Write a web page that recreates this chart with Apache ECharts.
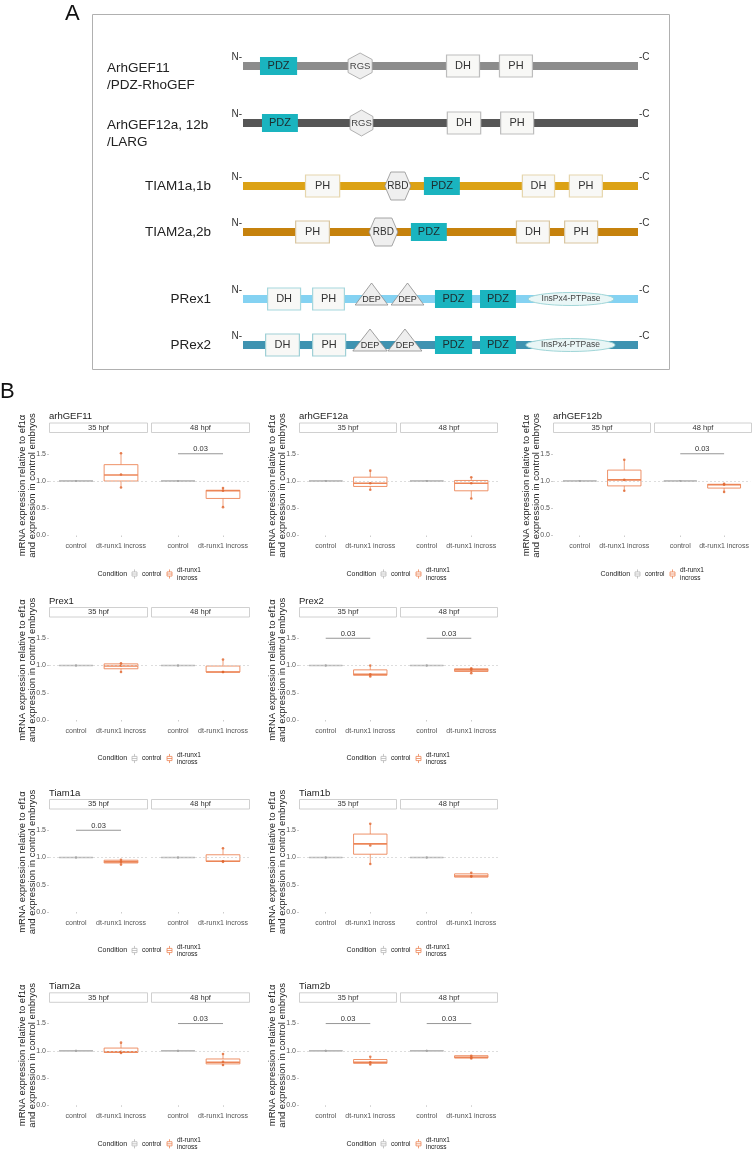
<!DOCTYPE html>
<html><head><meta charset="utf-8">
<script src="https://cdn.jsdelivr.net/npm/echarts@6/dist/echarts.min.js"></script>
<style>html,body{margin:0;padding:0;background:#fff}#c{width:752px;height:1149px}</style>
</head><body><div id="c"></div>
<script>
// ================= DATA =================
// Panel A: domain architecture (positions in % of protein length)
const proteinLabels = ['ArhGEF11\n/PDZ-RhoGEF', 'ArhGEF12a, 12b\n/LARG', 'TIAM1a,1b', 'TIAM2a,2b', 'PRex1', 'PRex2'];
const backbone = [0, 100];
const domainsArhGEF11 = [['PDZ', 4.3, 13.7], ['RGS', 26.6, 32.7], ['DH', 51.4, 60.0], ['PH', 64.8, 73.4]];
const domainsArhGEF12 = [['PDZ', 4.8, 13.9], ['RGS', 27.1, 32.9], ['DH', 51.6, 60.3], ['PH', 65.1, 73.7]];
const domainsTIAM1 = [['PH', 15.7, 24.6], ['RBD', 35.9, 42.5], ['PDZ', 45.8, 54.9], ['DH', 70.6, 79.0], ['PH', 82.5, 91.1]];
const domainsTIAM2 = [['PH', 13.2, 22.0], ['RBD', 31.9, 39.2], ['PDZ', 42.5, 51.6], ['DH', 69.1, 77.7], ['PH', 81.3, 89.9]];
const domainsPRex1 = [['DH', 6.1, 14.7], ['PH', 17.5, 25.8], ['DEP', 28.4, 36.7], ['DEP', 37.5, 45.8], ['PDZ', 48.6, 58.0], ['PDZ', 60.0, 69.1], ['InsPx4-PTPase', 72.2, 93.9]];
const domainsPRex2 = [['DH', 5.6, 14.4], ['PH', 17.5, 26.1], ['DEP', 27.8, 36.5], ['DEP', 36.7, 45.3], ['PDZ', 48.6, 58.0], ['PDZ', 60.0, 69.1], ['InsPx4-PTPase', 71.6, 94.2]];

// Panel B: qPCR boxplots
const genes = ['arhGEF11', 'arhGEF12a', 'arhGEF12b', 'Prex1', 'Prex2', 'Tiam1a', 'Tiam1b', 'Tiam2a', 'Tiam2b'];
const stages = ['35 hpf', '48 hpf'];
const conditions = ['control', 'dt-runx1 incross'];
const yTickValues = [0, 0.5, 1, 1.5];
const yTitle = 'mRNA expression relative to ef1\u03b1\nand expression in control embryos';
// [min, q1, median, q3, max]
const controlStats = [1, 1, 1, 1, 1];
const controlPoints = [1, 1, 1];
const dt35Stats = [
  [0.88, 1.00, 1.11, 1.30, 1.52], [0.84, 0.90, 0.96, 1.07, 1.19], [0.81, 0.91, 1.02, 1.20, 1.39],
  [0.88, 0.94, 0.99, 1.03, 1.05], [0.80, 0.82, 0.84, 0.92, 1.00], [0.87, 0.90, 0.92, 0.95, 0.96],
  [0.88, 1.06, 1.25, 1.43, 1.62], [0.96, 0.97, 0.98, 1.05, 1.14], [0.74, 0.77, 0.79, 0.84, 0.88]];
const dt48Stats = [
  [0.52, 0.68, 0.82, 0.83, 0.88], [0.68, 0.82, 0.96, 1.01, 1.07], [0.79, 0.87, 0.93, 0.94, 0.95],
  [0.88, 0.88, 0.88, 0.99, 1.11], [0.86, 0.89, 0.92, 0.94, 0.95], [0.92, 0.93, 0.93, 1.05, 1.18],
  [0.64, 0.64, 0.66, 0.70, 0.71], [0.72, 0.76, 0.79, 0.85, 0.93], [0.85, 0.87, 0.88, 0.91, 0.91]];
const dt35Points = [
  [1.51, 1.12, 0.88], [1.19, 0.96, 0.84], [1.39, 1.02, 0.82], [1.04, 1.00, 0.88], [1.00, 0.84, 0.80],
  [0.96, 0.92, 0.87], [1.62, 1.22, 0.88], [1.15, 0.98, 0.96], [0.89, 0.79, 0.75]];
const dt48Points = [
  [0.87, 0.82, 0.52], [1.07, 0.96, 0.68], [0.95, 0.93, 0.80], [1.11, 0.88, 0.88], [0.95, 0.92, 0.86],
  [1.17, 0.92, 0.93], [0.72, 0.66, 0.65], [0.94, 0.80, 0.74], [0.91, 0.88, 0.86]];
const sig35 = [null, null, null, null, '0.03', '0.03', null, null, '0.03'];
const sig48 = ['0.03', null, '0.03', null, '0.03', null, null, '0.03', '0.03'];
const sigLevel = 1.5;

// ================= LAYOUT / STYLE =================
const FONT = '"Liberation Sans", Arial, Helvetica, sans-serif';
const GRAY = '#b8b8b8', ORANGE = '#ec8658', ORANGE_PT = '#e0662f';
const option = { animation: false, textStyle: { fontFamily: FONT }, title: [], grid: [], xAxis: [], yAxis: [], series: [], legend: [], graphic: [] };

option.title.push({ text: 'A', left: 65, top: 3, padding: 0, textStyle: { fontSize: 22, fontWeight: 'normal', color: '#111', fontFamily: FONT } });
option.title.push({ text: 'B', left: 0, top: 381, padding: 0, textStyle: { fontSize: 22, fontWeight: 'normal', color: '#111', fontFamily: FONT } });
option.graphic.push({ type: 'rect', shape: { x: 92.5, y: 14.5, width: 577, height: 355 }, style: { fill: 'none', stroke: '#b0b0b0', lineWidth: 1 }, silent: true });

// ---- Panel A ----
const rowY = [66, 123, 186, 232, 299, 345];
const rowDomains = [domainsArhGEF11, domainsArhGEF12, domainsTIAM1, domainsTIAM2, domainsPRex1, domainsPRex2];
const rowStyle = [
  { bar: '#8c8c8c', border: '#bdbdbd', align: 'left' },
  { bar: '#565656', border: '#bdbdbd', align: 'left' },
  { bar: '#dca215', border: '#e6d6ad', align: 'right' },
  { bar: '#c6820d', border: '#d9c6a0', align: 'right' },
  { bar: '#84d2f2', border: '#a5d7dd', align: 'right' },
  { bar: '#3f93b1', border: '#9fd0d6', align: 'right' }];

function domainRenderer(items, st) {
  return function (params, api) {
    const it = items[params.dataIndex];
    const a = api.coord([it[1], 0]), b = api.coord([it[2], 0]);
    const x0 = a[0], x1 = b[0], cy = a[1], cx = (x0 + x1) / 2, w = x1 - x0;
    const txt = (t, y, size, col) => ({ type: 'text', style: { text: t, x: cx, y: y, align: 'center', verticalAlign: 'middle', fontSize: size, fill: col || '#333', fontFamily: FONT } });
    const k = it[0];
    if (k === 'chain') return { type: 'group', children: [
      { type: 'rect', shape: { x: x0, y: cy - 4, width: w, height: 8 }, style: { fill: st.bar } },
      { type: 'text', style: { text: 'N-', x: x0 - 1, y: cy - 9, align: 'right', verticalAlign: 'middle', fontSize: 10, fill: '#333', fontFamily: FONT } },
      { type: 'text', style: { text: '-C', x: x1 + 1, y: cy - 9, align: 'left', verticalAlign: 'middle', fontSize: 10, fill: '#333', fontFamily: FONT } }] };
    if (k === 'PDZ') return { type: 'group', children: [
      { type: 'rect', shape: { x: x0, y: cy - 9, width: w, height: 18 }, style: { fill: '#1ab4bf' } }, txt('PDZ', cy, 11, '#1d2b2d')] };
    if (k === 'DH' || k === 'PH') return { type: 'group', children: [
      { type: 'rect', shape: { x: x0 + 0.5, y: cy - 11, width: w - 1, height: 22 }, style: { fill: '#f8f8f6', stroke: st.border, lineWidth: 1.2 } }, txt(k, cy, 11)] };
    if (k === 'RGS') return { type: 'group', children: [
      { type: 'polygon', shape: { points: [[cx, cy - 13], [x1, cy - 6.5], [x1, cy + 6.5], [cx, cy + 13], [x0, cy + 6.5], [x0, cy - 6.5]] }, style: { fill: '#efefef', stroke: '#a0a0a0', lineWidth: 0.8 } }, txt(k, cy, 9.5, '#444')] };
    if (k === 'RBD') return { type: 'group', children: [
      { type: 'polygon', shape: { points: [[x0, cy], [x0 + 6, cy - 14], [x1 - 6, cy - 14], [x1, cy], [x1 - 6, cy + 14], [x0 + 6, cy + 14]] }, style: { fill: '#efefef', stroke: '#909090', lineWidth: 0.8 } }, txt(k, cy, 10, '#333')] };
    if (k === 'DEP') return { type: 'group', children: [
      { type: 'polygon', shape: { points: [[cx, cy - 16], [x1, cy + 6], [x0, cy + 6]] }, style: { fill: '#eeeeee', stroke: '#8a8a8a', lineWidth: 0.8 } }, txt(k, cy + 1, 9, '#333')] };
    // InsPx4-PTPase ellipse
    const rx = w / 2, ry = 6.5;
    return { type: 'group', children: [
      { type: 'path', shape: { pathData: `M${x0},${cy}A${rx},${ry} 0 1,1 ${x1},${cy}A${rx},${ry} 0 1,1 ${x0},${cy}Z` }, style: { fill: '#e9f6f6', stroke: '#a0d5d7', lineWidth: 1 } },
      txt(k, cy, 8.5, '#444')] };
  };
}

rowY.forEach((y, i) => {
  const gi = option.grid.length;
  option.grid.push({ left: 243, width: 395, top: y - 15, height: 30 });
  option.xAxis.push({ type: 'value', gridIndex: gi, min: backbone[0], max: backbone[1], show: false });
  const left = rowStyle[i].align === 'left';
  option.yAxis.push({ type: 'category', gridIndex: gi, data: [proteinLabels[i]], axisLine: { show: false }, axisTick: { show: false },
    axisLabel: { margin: left ? 136 : 32, align: left ? 'left' : 'right', fontSize: 13.5, color: '#222', lineHeight: 17, fontFamily: FONT,
      verticalAlign: 'middle',
      formatter: v => (v.indexOf('\n') >= 0 ? '{g| }\n' + v.split('\n').map(s => '{t|' + s + '}').join('\n') : v),
      rich: { g: { lineHeight: 21, fontSize: 13.5 }, t: { lineHeight: 17, fontSize: 13.5, color: '#222', fontFamily: FONT } } } });
  const items = [['chain', backbone[0], backbone[1]]].concat(rowDomains[i]);
  option.series.push({ type: 'custom', xAxisIndex: gi, yAxisIndex: gi, clip: false, silent: true,
    renderItem: domainRenderer(items, rowStyle[i]), encode: { x: [0, 1], y: 2 },
    data: items.map(it => [it[1], it[2], 0]) });
});

// ---- Panel B ----
const genePos = [[0, 0], [0, 1], [0, 2], [1, 0], [1, 1], [2, 0], [2, 1], [3, 0], [3, 1]];
const colPanels = [[[49, 148], [151, 250]], [[299, 397], [400, 498]], [[553, 651], [654, 752]]];
const rowZero = [535.5, 720, 912, 1105.3];
const PXU = 54.5, YMIN = -0.1, YMAX = 1.8;
const BOXICON = 'path://M3,0V3M0,3H6V8H0ZM0,5.5H6M3,8V11';

function renderBox(params, api) {
  const x = api.value(0);
  const c = v => api.coord([x, v]);
  const half = api.size([0.75, 0])[0] / 2;
  const pMin = c(api.value(1)), pQ1 = c(api.value(2)), pMed = c(api.value(3)), pQ3 = c(api.value(4)), pMax = c(api.value(5));
  const col = api.visual('color');
  const cx = pMed[0];
  return { type: 'group', children: [
    { type: 'line', shape: { x1: cx, y1: pMax[1], x2: cx, y2: pQ3[1] }, style: { stroke: col, lineWidth: 0.8 } },
    { type: 'line', shape: { x1: cx, y1: pQ1[1], x2: cx, y2: pMin[1] }, style: { stroke: col, lineWidth: 0.8 } },
    { type: 'rect', shape: { x: cx - half, y: pQ3[1], width: half * 2, height: pQ1[1] - pQ3[1] }, style: { fill: 'none', stroke: col, lineWidth: 0.9 } },
    { type: 'line', shape: { x1: cx - half, y1: pMed[1], x2: cx + half, y2: pMed[1] }, style: { stroke: col, lineWidth: 1.6 } }] };
}
function sigRenderer(label) {
  return function (params, api) {
    const a = api.coord([api.value(0), api.value(2)]), b = api.coord([api.value(1), api.value(2)]);
    return { type: 'group', children: [
      { type: 'line', shape: { x1: a[0], y1: a[1], x2: b[0], y2: b[1] }, style: { stroke: '#8a8a8a', lineWidth: 0.9 } },
      { type: 'text', style: { text: label, x: (a[0] + b[0]) / 2, y: a[1] - 0.5, align: 'center', verticalAlign: 'bottom', fontSize: 7.5, fill: '#333', fontFamily: FONT } }] };
  };
}

genes.forEach((gene, g) => {
  const [r, c] = genePos[g];
  const zero = rowZero[r];
  const panels = colPanels[c];
  const center = (panels[0][0] + panels[1][1]) / 2;
  option.title.push({ text: gene, left: panels[0][0], top: zero - 124, padding: 0, textStyle: { fontSize: 9.5, fontWeight: 'normal', color: '#222', fontFamily: FONT } });
  option.title.push({ text: 'Condition', left: center - 52, top: zero + 35, padding: 0, textStyle: { fontSize: 7, fontWeight: 'normal', color: '#222', fontFamily: FONT } });
  option.legend.push({ left: center - 20, top: zero + 31, padding: 0, orient: 'horizontal', itemWidth: 5, itemHeight: 10, itemGap: 3, selectedMode: false,
    textStyle: { fontSize: 6.5, color: '#222', lineHeight: 7.5, fontFamily: FONT },
    data: [{ name: 'control', icon: BOXICON, itemStyle: { color: 'none', borderColor: GRAY, borderWidth: 0.8 } },
           { name: 'dt-runx1\nincross', icon: BOXICON, itemStyle: { color: 'none', borderColor: ORANGE, borderWidth: 0.8 } }] });
  // rotated y-axis title
  option.graphic.push({ type: 'text', silent: true, x: panels[0][0] - 21.5, y: zero - 50, rotation: Math.PI / 2,
    style: { text: yTitle, align: 'center', verticalAlign: 'middle', fontSize: 9.5, lineHeight: 10.5, fill: '#222', fontFamily: FONT } });
  [0, 1].forEach(s => {
    const [x0, x1] = panels[s];
    const gi = option.grid.length;
    option.grid.push({ left: x0, width: x1 - x0, top: zero - YMAX * PXU, height: (YMAX - YMIN) * PXU });
    option.graphic.push({ type: 'group', silent: true, children: [
      { type: 'rect', shape: { x: x0 + 0.5, y: zero - 112.5, width: x1 - x0 - 1, height: 9.5 }, style: { fill: '#fff', stroke: '#c4c4c4', lineWidth: 0.8 } },
      { type: 'text', style: { text: stages[s], x: (x0 + x1) / 2, y: zero - 107.7, align: 'center', verticalAlign: 'middle', fontSize: 7.5, fill: '#333', fontFamily: FONT } }] });
    option.xAxis.push({ type: 'value', gridIndex: gi, min: 0.4, max: 2.6, axisLine: { show: false }, splitLine: { show: false },
      axisTick: { show: true, customValues: [1, 2], length: 1.5, lineStyle: { color: '#999', width: 0.5 } },
      axisLabel: { customValues: [1, 2], formatter: v => conditions[Math.round(v) - 1], fontSize: 7, color: '#555', margin: 2, fontFamily: FONT } });
    option.yAxis.push({ type: 'value', gridIndex: gi, min: YMIN, max: YMAX, splitLine: { show: false }, axisLine: { show: false },
      axisTick: { show: s === 0, customValues: yTickValues, length: 2, lineStyle: { color: '#999', width: 0.5 } },
      axisLabel: { show: s === 0, customValues: yTickValues, formatter: v => v.toFixed(1), fontSize: 7, color: '#555', margin: 3, fontFamily: FONT, hideOverlap: false } });
    const dtStats = s === 0 ? dt35Stats[g] : dt48Stats[g];
    const dtPts = s === 0 ? dt35Points[g] : dt48Points[g];
    option.series.push({ name: 'control', type: 'custom', xAxisIndex: gi, yAxisIndex: gi, renderItem: renderBox, itemStyle: { color: GRAY }, encode: { x: 0, y: [1, 2, 3, 4, 5] }, data: [[1].concat(controlStats)] });
    option.series.push({ name: 'dt-runx1\nincross', type: 'custom', xAxisIndex: gi, yAxisIndex: gi, renderItem: renderBox, itemStyle: { color: ORANGE }, encode: { x: 0, y: [1, 2, 3, 4, 5] }, data: [[2].concat(dtStats)] });
    option.series.push({ name: 'control', type: 'scatter', xAxisIndex: gi, yAxisIndex: gi, symbolSize: 2.2, itemStyle: { color: '#a8a8a8' }, silent: true,
      data: controlPoints.map(v => [1, v]),
      markLine: { silent: true, symbol: 'none', label: { show: false }, lineStyle: { color: '#cfcfcf', type: [2, 2], width: 0.7 }, data: [{ yAxis: 1 }] } });
    option.series.push({ name: 'dt-runx1\nincross', type: 'scatter', xAxisIndex: gi, yAxisIndex: gi, symbolSize: 2.6, itemStyle: { color: ORANGE_PT }, silent: true,
      data: dtPts.map(v => [2, v]) });
    const sig = s === 0 ? sig35[g] : sig48[g];
    if (sig) option.series.push({ name: 'sig', type: 'custom', xAxisIndex: gi, yAxisIndex: gi, renderItem: sigRenderer(sig), encode: { x: [0, 1], y: 2 }, data: [[1, 2, sigLevel]] });
  });
});

const chart = echarts.init(document.getElementById('c'), null, { renderer: 'canvas' });
chart.setOption(option);
</script></body></html>
